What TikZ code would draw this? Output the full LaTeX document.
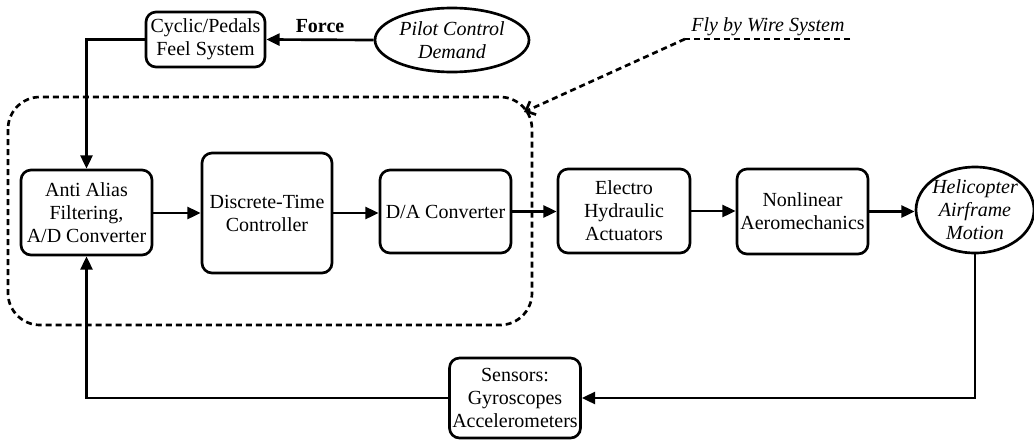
\documentclass[tikz,border=0pt]{standalone}
\usepackage{fontspec}
\setmainfont{Liberation Serif}
\usepackage{tikz}
\usetikzlibrary{shapes.geometric, arrows.meta, positioning, calc}

\tikzset{
  block/.style={draw, line width=2pt, rounded corners=7.5pt, align=center, inner sep=1pt},
  oval/.style={draw, ellipse, line width=2pt, inner sep=0pt},
  flow/.style={line width=2pt, -{Triangle[length=10pt,width=9pt]}},
  fbw/.style={line width=2pt, dash pattern=on 4.5pt off 3pt}
}

\begin{document}
\begin{tikzpicture}[x=0.75pt, y=-0.75pt, font=\fontsize{15}{17.25}\selectfont]
\useasboundingbox (0,0) rectangle (1034,440);

% Fly by wire boundary
\draw[fbw, rounded corners=24pt] (8,97) rectangle (532,325);
\node[font=\fontsize{15}{17.25}\selectfont\itshape] (fbwtext) at (768,27) {Fly by Wire System};
\coordinate (fbwr) at (850,39);
\coordinate (fbwl) at (685,39);
\coordinate (fbwtip) at (524,112);
\draw[fbw] (fbwr) -- (fbwl);
\draw[fbw, -{Straight Barb[length=6pt,width=11pt]}] (fbwl) -- (fbwtip);

% Pilot input
\node[oval, minimum width=115.5pt, minimum height=48pt,
      label={[align=center, font=\fontsize{15}{17.25}\selectfont\itshape]center:Pilot Control\\Demand}] (pilot) at (452,40) {};
\node[block, minimum width=89.25pt, minimum height=41.25pt] (cps) at (205.5,39.5) {Cyclic/Pedals\\Feel System};

% Forward path
\node[block, minimum width=98.25pt, minimum height=63.75pt] (aa) at (86.5,212.5) {Anti Alias\\Filtering,\\A/D Converter};
\node[block, minimum width=97.5pt, minimum height=90pt] (dtc) at (267,213) {Discrete-Time\\Controller};
\node[block, minimum width=98.25pt, minimum height=62.25pt] (dac) at (445.5,211.5) {D/A Converter};
\node[block, minimum width=99pt, minimum height=63pt] (eha) at (624,211) {Electro\\Hydraulic\\Actuators};
\node[block, minimum width=98.25pt, minimum height=63.75pt] (nla) at (802.5,211.5) {Nonlinear\\Aeromechanics};
\node[oval, minimum width=88.5pt, minimum height=64.5pt,
      label={[align=center, font=\fontsize{15}{17.25}\selectfont\itshape]center:Helicopter\\Airframe\\Motion}] (heli) at (975,210) {};

% Feedback path
\node[block, minimum width=98.25pt, minimum height=60pt] (sens) at (515,398) {Sensors:\\Gyroscopes\\Accelerometers};

% Connections
\draw[flow] (pilot.west) -- node[above=1pt, font=\fontsize{15}{17.25}\selectfont\bfseries] {Force} (cps.east);
\draw[flow] (cps.west) -| (aa.north);
\draw[flow] (aa.east |- dtc.west) -- (dtc.west);
\draw[flow] (dtc.east) -- (dac.west |- dtc.east);
\draw[flow] (dac.east) -- (eha.west |- dac.east);
\draw[flow] (eha.east) -- (nla.west |- eha.east);
\draw[flow] (nla.east) -- (heli.west |- nla.east);
\draw[flow] (heli.south) |- (sens.east);
\draw[flow] (sens.west) -| (aa.south);
\end{tikzpicture}
\end{document}
